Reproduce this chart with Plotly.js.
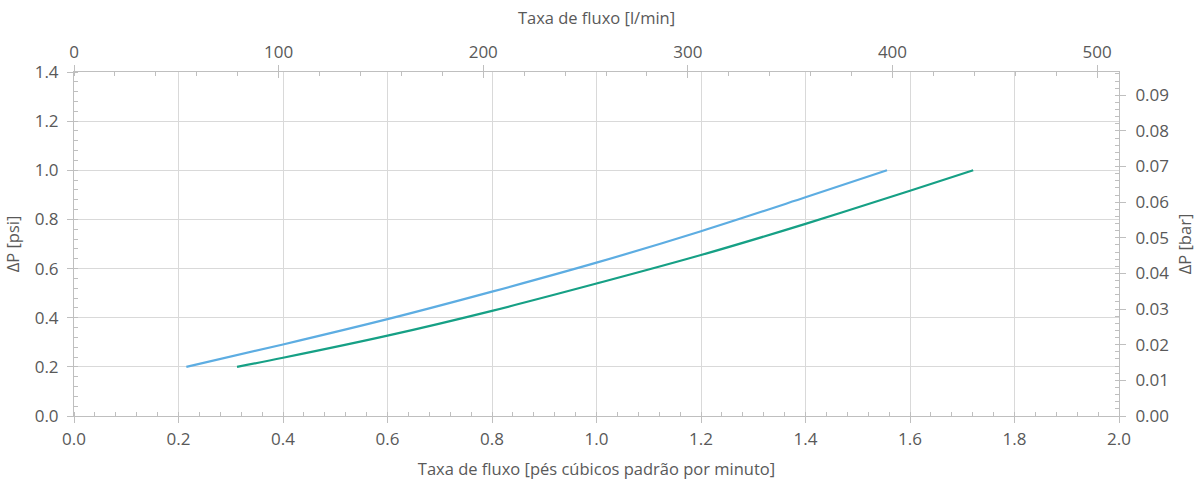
<!DOCTYPE html>
<html>
<head>
<meta charset="utf-8">
<script src="https://cdn.plot.ly/plotly-3.0.1.min.js"></script>
<style>html,body{margin:0;padding:0;background:#fff;}#chart{width:1197px;height:487px;}</style>
</head>
<body>
<div id="chart"></div>
<script>
// Series values (flow in SCFM, pressure drop in psi)
const blueFlow = [0.215, 0.4, 0.6, 0.8, 1.0, 1.2, 1.4, 1.556];
const blueDP   = [0.2, 0.291, 0.394, 0.506, 0.624, 0.752, 0.890, 1.0];
const greenFlow = [0.312, 0.4, 0.6, 0.8, 1.0, 1.2, 1.4, 1.6, 1.721];
const greenDP   = [0.2, 0.237, 0.327, 0.428, 0.539, 0.655, 0.782, 0.917, 1.0];

const xTitle = 'Taxa de fluxo [pés cúbicos padrão por minuto]';
const x2Title = 'Taxa de fluxo [l/min]';
const yTitle = 'ΔP [psi]';
const y2Title = 'ΔP [bar]';

const txt = '#595959';
const axisCol = '#bfbfbf';
const gridCol = '#d9d9d9';
const fam = 'Open Sans, sans-serif';

const data = [
  {x: blueFlow, y: blueDP, type: 'scatter', mode: 'lines', line: {color: '#5DADE2', width: 2.2, shape: 'spline'}, showlegend: false, hoverinfo: 'skip'},
  {x: greenFlow, y: greenDP, type: 'scatter', mode: 'lines', line: {color: '#16A085', width: 2.2, shape: 'spline'}, showlegend: false, hoverinfo: 'skip'},
  {x: [], y: [], xaxis: 'x2', yaxis: 'y2', type: 'scatter', mode: 'lines', showlegend: false},
  {x: [], y: [], xaxis: 'x3', yaxis: 'y', type: 'scatter', mode: 'lines', showlegend: false}
];

const tickFont = {family: fam, size: 17, color: txt};
const titleFont = {family: fam, size: 16.5, color: txt};

const layout = {
  width: 1197, height: 487,
  margin: {l: 74, r: 78, t: 72, b: 71},
  paper_bgcolor: '#fff', plot_bgcolor: '#fff',
  font: {family: fam, color: txt},
  xaxis: {
    range: [0, 2], dtick: 0.2, tickformat: '.1f', tick0: 0,
    showgrid: true, gridcolor: gridCol, gridwidth: 1,
    showline: true, linecolor: axisCol, linewidth: 1,
    ticks: 'outside', ticklen: 6, tickcolor: axisCol, ticklabelstandoff: 2,
    minor: {dtick: 0.04, ticks: 'inside', ticklen: 4, tickcolor: axisCol, showgrid: false},
    zeroline: false, tickfont: tickFont,
    title: {text: xTitle, font: titleFont, standoff: 14}
  },
  xaxis2: {
    overlaying: 'x', anchor: 'y', side: 'top',
    range: [0, 510.7], dtick: 100, tick0: 0,
    showgrid: false, showline: true, linecolor: axisCol, linewidth: 1,
    ticks: 'outside', ticklen: 6, tickcolor: axisCol,
    minor: {dtick: 20, ticks: 'inside', ticklen: 4, tickcolor: axisCol, showgrid: false},
    zeroline: false, tickfont: tickFont,
    title: {text: x2Title, font: titleFont, standoff: 11}
  },
  xaxis3: {
    overlaying: 'x', anchor: 'y', side: 'top',
    range: [0, 510.7], dtick: 100, tick0: 0,
    showgrid: false, showline: false, showticklabels: false,
    ticks: 'inside', ticklen: 6, tickcolor: axisCol, zeroline: false
  },
  yaxis: {
    range: [0, 1.4], dtick: 0.2, tick0: 0, tickformat: '.1f',
    showgrid: true, gridcolor: gridCol, gridwidth: 1,
    showline: true, linecolor: axisCol, linewidth: 1,
    ticks: 'outside', ticklen: 6, tickcolor: axisCol, ticklabelstandoff: 5,
    minor: {dtick: 0.04, ticks: 'inside', ticklen: 4, tickcolor: axisCol, showgrid: false},
    zeroline: false, tickfont: tickFont,
    title: {text: yTitle, font: titleFont, standoff: 10}
  },
  yaxis2: {
    overlaying: 'y', anchor: 'x', side: 'right',
    range: [0, 0.096527], dtick: 0.01, tick0: 0, tickformat: '.2f',
    showgrid: false, showline: true, linecolor: axisCol, linewidth: 1,
    ticks: 'outside', ticklen: 6, tickcolor: axisCol, ticklabelstandoff: 6,
    minor: {dtick: 0.002, ticks: 'inside', ticklen: 4, tickcolor: axisCol, showgrid: false},
    zeroline: false, tickfont: tickFont,
    title: {text: y2Title, font: titleFont, standoff: 11}
  }
};

Plotly.newPlot('chart', data, layout, {staticPlot: true, displayModeBar: false});
</script>
</body>
</html>
